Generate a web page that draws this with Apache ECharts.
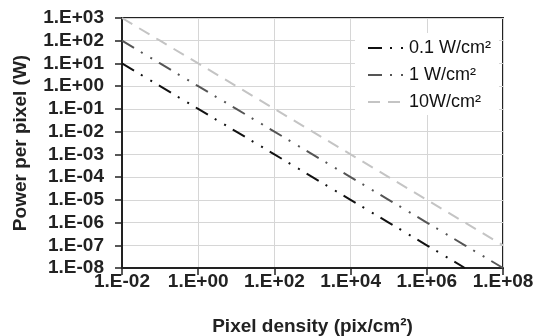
<!DOCTYPE html>
<html><head><meta charset="utf-8">
<script src="https://cdn.jsdelivr.net/npm/echarts@6/dist/echarts.min.js"></script>
<style>html,body{margin:0;padding:0;background:#fff}#c{width:533px;height:336px}</style>
</head><body><div id="c"></div>
<script>
// Pixel density (pix/cm^2), one point per decade
const densities = [1e-2, 1e-1, 1e0, 1e1, 1e2, 1e3, 1e4, 1e5, 1e6, 1e7, 1e8];
// Power per pixel (W)
const p01 = [1e1, 1e0, 1e-1, 1e-2, 1e-3, 1e-4, 1e-5, 1e-6, 1e-7, 1e-8];
const p1 = [1e2, 1e1, 1e0, 1e-1, 1e-2, 1e-3, 1e-4, 1e-5, 1e-6, 1e-7, 1e-8];
const p10 = [1e3, 1e2, 1e1, 1e0, 1e-1, 1e-2, 1e-3, 1e-4, 1e-5, 1e-6, 1e-7];
const seriesNames = ['0.1 W/cm²', '1 W/cm²', '10W/cm²'];
const xTitle = 'Pixel density (pix/cm²)';
const yTitle = 'Power per pixel (W)';

function sci(v) {
  const e = Math.round(Math.log10(v));
  const s = e < 0 ? '-' : '+';
  const a = Math.abs(e);
  return '1.E' + s + (a < 10 ? '0' : '') + a;
}
function pairs(ys) { return ys.map((y, i) => [densities[i], y]); }

const FF = '"Liberation Sans", Arial, sans-serif';
const chart = echarts.init(document.getElementById('c'), null, {renderer: 'canvas'});
chart.setOption({
  animation: false,
  backgroundColor: '#fff',
  grid: {left: 122, right: 30, top: 18, bottom: 68, containLabel: false, outerBoundsMode: 'none',
         show: true, borderColor: '#222', borderWidth: 2, backgroundColor: 'transparent'},
  legend: {
    orient: 'vertical', left: 355, top: 33,
    padding: [6, 8, 4, 12], itemGap: 9, itemWidth: 36, itemHeight: 14,
    backgroundColor: '#fff',
    itemStyle: {color: 'rgba(0,0,0,0)', borderColor: 'rgba(0,0,0,0)', borderWidth: 0},
    textStyle: {fontFamily: FF, fontSize: 18, color: '#111'},
    data: seriesNames
  },
  xAxis: {
    type: 'log', logBase: 10, min: 1e-2, max: 1e8, interval: 2,
    name: xTitle, nameLocation: 'middle', nameGap: 49,
    nameTextStyle: {fontFamily: FF, fontSize: 19, fontWeight: 'bold', color: '#222'},
    axisLine: {lineStyle: {color: '#222', width: 2}},
    axisTick: {show: true, inside: false, length: 7, lineStyle: {color: '#222', width: 1.5}},
    axisLabel: {fontFamily: FF, fontSize: 19, fontWeight: 'bold', color: '#222', margin: 4, formatter: sci},
    splitLine: {show: true, lineStyle: {color: '#d6d6d6', width: 1}},
    minorTick: {show: false}
  },
  yAxis: {
    type: 'log', logBase: 10, min: 1e-8, max: 1e3, interval: 1,
    name: yTitle, nameLocation: 'middle', nameGap: 92, nameRotate: 90,
    nameTextStyle: {fontFamily: FF, fontSize: 19, fontWeight: 'bold', color: '#222'},
    axisLine: {show: true, lineStyle: {color: '#222', width: 2}},
    axisTick: {show: true, inside: false, length: 7, lineStyle: {color: '#222', width: 1.5}},
    axisLabel: {fontFamily: FF, fontSize: 19, fontWeight: 'bold', color: '#222', margin: 18, formatter: sci},
    splitLine: {show: true, lineStyle: {color: '#d6d6d6', width: 1}},
    minorTick: {show: false}
  },
  series: [
    {name: seriesNames[0], type: 'line', symbol: 'none', data: pairs(p01), clip: true,
     lineStyle: {color: '#111', width: 2, type: [14, 8, 2, 9, 2, 8]}, itemStyle: {color: '#111'}, z: 5},
    {name: seriesNames[1], type: 'line', symbol: 'none', data: pairs(p1), clip: true,
     lineStyle: {color: '#555', width: 2, type: [14, 8, 2, 9, 2, 8]}, itemStyle: {color: '#555'}, z: 4},
    {name: seriesNames[2], type: 'line', symbol: 'none', data: pairs(p10), clip: true,
     lineStyle: {color: '#c4c4c4', width: 2, type: [12, 8]}, itemStyle: {color: '#c4c4c4'}, z: 3}
  ]
});
</script></body></html>
